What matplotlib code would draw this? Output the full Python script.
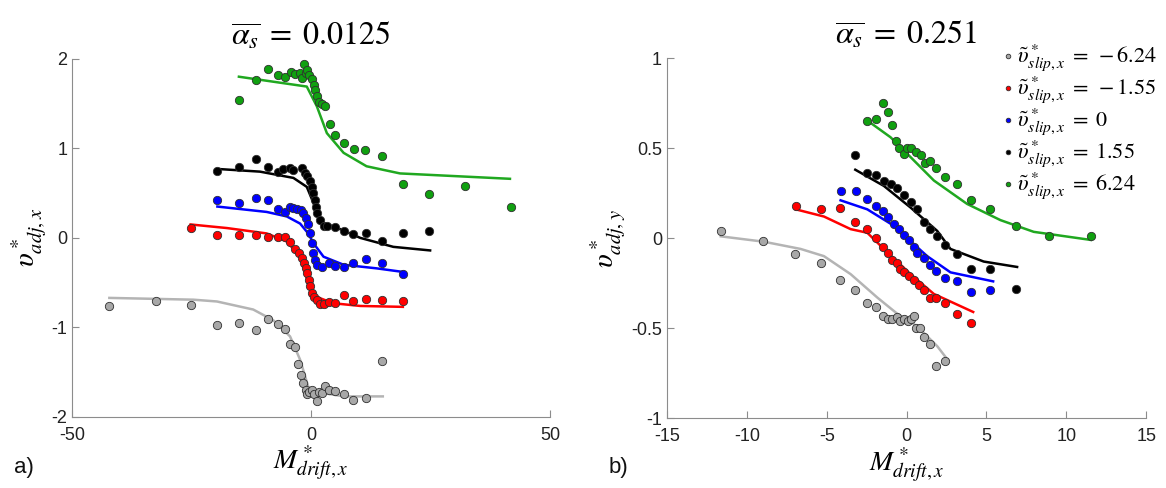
import numpy as np
import matplotlib
matplotlib.use("Agg")
import matplotlib.pyplot as plt

plt.rcParams['font.family'] = ['Liberation Sans', 'DejaVu Sans']
plt.rcParams['mathtext.fontset'] = 'stix'
plt.rcParams['axes.unicode_minus'] = False

# ---- panel a) alpha_s = 0.0125 ----
a_gray_x = [-42.2, -32.5, -25.2, -19.6, -15.1, -11.6, -9.1, -7.0, -5.4, -4.4, -3.3, -2.7, -2.2, -1.6,
            -1.0, -0.8, -0.4, 0.2, 0.6, 1.2, 1.7, 2.3, 3.0, 3.7, 5.1, 6.8, 8.7, 11.4, 14.8]
a_gray_y = [-0.76, -0.70, -0.75, -0.97, -0.95, -1.03, -0.91, -0.96, -1.02, -1.18, -1.22, -1.41, -1.53, -1.62,
            -1.70, -1.74, -1.72, -1.70, -1.74, -1.82, -1.72, -1.73, -1.65, -1.70, -1.71, -1.74, -1.81, -1.79, -1.37]
a_gray_fx = [-42.2, -24.6, -19.7, -12.1, -7.9, -4.4, -2.3, -0.6, 1.2, 6.8, 15.0]
a_gray_fy = [-0.67, -0.69, -0.71, -0.80, -0.92, -1.10, -1.36, -1.66, -1.72, -1.77, -1.77]

a_red_x = [-25.2, -19.6, -15.1, -11.6, -9.1, -7.0, -5.4, -4.4, -3.3, -2.6, -2.0, -1.5, -1.0, -0.8, -0.5,
           -0.2, 0.2, 0.6, 1.2, 1.9, 2.6, 3.7, 5.1, 6.8, 8.7, 11.4, 14.8, 19.2]
a_red_y = [0.11, 0.03, 0.03, 0.03, 0.01, 0.01, 0.01, -0.05, -0.12, -0.17, -0.23, -0.28, -0.34, -0.39, -0.47,
           -0.54, -0.62, -0.66, -0.69, -0.74, -0.74, -0.72, -0.73, -0.64, -0.71, -0.68, -0.69, -0.70]
a_red_fx = [-25.2, -17.6, -9.3, -5.1, -2.3, -0.6, 1.2, 4.7, 10.3, 19.2]
a_red_fy = [0.15, 0.11, 0.05, -0.04, -0.21, -0.51, -0.66, -0.73, -0.76, -0.77]

a_blue_x = [-19.6, -15.1, -11.6, -9.1, -7.0, -5.4, -4.4, -3.7, -2.9, -2.2, -1.6, -1.0, -0.6, -0.2,
            0.2, 0.5, 0.9, 1.3, 2.3, 3.7, 5.1, 6.8, 8.7, 11.4, 14.8, 19.2]
a_blue_y = [0.42, 0.39, 0.44, 0.42, 0.32, 0.29, 0.35, 0.33, 0.32, 0.31, 0.28, 0.22, 0.16, 0.05,
            -0.06, -0.17, -0.25, -0.30, -0.32, -0.28, -0.31, -0.33, -0.28, -0.24, -0.28, -0.40]
a_blue_fx = [-19.6, -9.3, -5.1, -2.3, -0.6, 0.5, 2.6, 6.8, 13.7, 19.2]
a_blue_fy = [0.35, 0.29, 0.24, 0.16, 0.05, -0.06, -0.21, -0.30, -0.34, -0.38]

a_black_x = [-19.6, -15.1, -11.6, -9.1, -7.0, -5.8, -4.5, -3.7, -2.0, -1.2, -0.8, -0.2, 0.2, 0.5, 0.8,
             1.0, 1.3, 1.9, 2.6, 3.3, 5.1, 6.8, 8.7, 11.4, 14.8, 19.2, 24.7]
a_black_y = [0.75, 0.79, 0.88, 0.79, 0.74, 0.77, 0.78, 0.76, 0.78, 0.72, 0.69, 0.63, 0.57, 0.50, 0.42,
             0.35, 0.28, 0.20, 0.13, 0.13, 0.12, 0.08, 0.04, 0.06, -0.04, 0.05, 0.08]
a_black_fx = [-19.6, -10.7, -3.7, -0.9, 0.5, 1.9, 4.7, 10.3, 17.2, 24.9]
a_black_fy = [0.77, 0.74, 0.67, 0.57, 0.39, 0.16, 0.13, 0.00, -0.10, -0.14]

a_green_x = [-15.1, -11.6, -9.1, -7.0, -5.4, -4.3, -3.3, -2.4, -2.0, -1.5, -1.0, -0.8, -0.4, 0.2, 0.6,
             0.9, 1.2, 1.6, 2.3, 3.0, 4.0, 5.1, 6.8, 8.9, 11.2, 14.9, 19.2, 24.7, 32.2, 41.8]
a_green_y = [1.54, 1.76, 1.89, 1.82, 1.80, 1.85, 1.83, 1.84, 1.79, 1.94, 1.84, 1.88, 1.82, 1.78, 1.71,
             1.65, 1.59, 1.52, 1.50, 1.47, 1.27, 1.15, 1.06, 0.99, 0.98, 0.92, 0.60, 0.49, 0.58, 0.34]
a_green_fx = [-15.1, -0.9, 1.2, 3.3, 6.8, 11.6, 18.6, 41.6]
a_green_fy = [1.80, 1.69, 1.47, 1.17, 0.95, 0.80, 0.72, 0.66]

# ---- panel b) alpha_s = 0.251 ----
b_gray_x = [-11.63, -8.96, -6.98, -5.38, -4.17, -3.21, -2.50, -1.92, -1.46, -1.17, -0.90, -0.58, -0.38,
            -0.13, 0.08, 0.29, 0.46, 0.60, 0.83, 1.08, 1.46, 1.83, 2.40]
b_gray_y = [0.04, -0.015, -0.09, -0.14, -0.23, -0.29, -0.36, -0.385, -0.43, -0.45, -0.45, -0.44, -0.46,
            -0.45, -0.46, -0.45, -0.43, -0.50, -0.50, -0.55, -0.59, -0.71, -0.68]
b_gray_fx = [-11.63, -8.92, -6.63, -5.17, -3.5, -1.83, -0.58, 0.67, 1.92, 2.44]
b_gray_fy = [0.01, -0.02, -0.06, -0.10, -0.20, -0.33, -0.42, -0.49, -0.60, -0.66]

b_red_x = [-6.94, -5.38, -4.17, -3.21, -2.46, -1.92, -1.50, -1.17, -0.90, -0.63, -0.38, -0.13, 0.15,
           0.46, 0.77, 1.08, 1.46, 1.83, 2.40, 3.13, 4.06]
b_red_y = [0.18, 0.16, 0.17, 0.09, 0.05, 0.00, -0.05, -0.085, -0.12, -0.14, -0.17, -0.19, -0.21,
           -0.23, -0.26, -0.29, -0.33, -0.33, -0.36, -0.42, -0.47]
b_red_fx = [-6.94, -5.17, -3.5, -2.46, -1.42, 0.25, 1.71, 4.17]
b_red_fy = [0.16, 0.12, 0.05, 0.03, -0.06, -0.20, -0.31, -0.41]

b_blue_x = [-4.13, -3.19, -2.46, -1.92, -1.46, -1.17, -0.79, -0.48, -0.17, 0.15, 0.46, 0.67, 1.08,
            1.46, 1.83, 2.40, 3.13, 4.06, 5.25]
b_blue_y = [0.26, 0.26, 0.22, 0.18, 0.15, 0.12, 0.08, 0.05, 0.02, -0.01, -0.05, -0.08, -0.11,
            -0.15, -0.18, -0.22, -0.24, -0.30, -0.29]
b_blue_fx = [-4.13, -2.46, -1.0, 0.04, 1.29, 2.75, 5.42]
b_blue_fy = [0.21, 0.16, 0.08, 0.00, -0.10, -0.19, -0.24]

b_black_x = [-3.21, -2.46, -1.92, -1.42, -1.0, -0.58, -0.17, 0.25, 0.67, 1.08, 1.46, 1.88, 2.40,
             3.13, 4.06, 5.25, 6.88]
b_black_y = [0.46, 0.36, 0.35, 0.32, 0.30, 0.28, 0.24, 0.20, 0.16, 0.09, 0.05, 0.01, -0.04,
             -0.09, -0.17, -0.17, -0.28]
b_black_fx = [-3.21, -1.42, 0.25, 1.92, 2.75, 4.83, 6.92]
b_black_fy = [0.38, 0.29, 0.17, 0.04, -0.06, -0.13, -0.16]

b_green_x = [-2.46, -1.92, -1.46, -1.17, -0.90, -0.69, -0.48, -0.17, 0.04, 0.25, 0.56, 0.88, 1.13,
             1.46, 1.83, 2.40, 3.13, 4.06, 5.25, 6.88, 8.9, 11.54]
b_green_y = [0.65, 0.66, 0.75, 0.70, 0.63, 0.54, 0.50, 0.47, 0.50, 0.50, 0.48, 0.46, 0.42,
             0.43, 0.39, 0.34, 0.30, 0.21, 0.16, 0.07, 0.01, 0.01]
b_green_fx = [-2.25, -1.0, 0.25, 1.71, 3.79, 5.88, 7.96, 11.54]
b_green_fy = [0.64, 0.56, 0.45, 0.32, 0.19, 0.10, 0.035, -0.01]

slip_values = ['-6.24', '-1.55', '0', '1.55', '6.24']
legend_labels = [r'$\tilde{\upsilon}^*_{slip,x}\;=\;' + v + '$' for v in slip_values]
colors = ['#a8a8a8', '#ff0000', '#0000ff', '#000000', '#10a010']
line_colors = ['#b4b4b4', '#ff0000', '#0000ff', '#000000', '#20a820']

panel_a = [(a_gray_x, a_gray_y, a_gray_fx, a_gray_fy), (a_red_x, a_red_y, a_red_fx, a_red_fy),
           (a_blue_x, a_blue_y, a_blue_fx, a_blue_fy), (a_black_x, a_black_y, a_black_fx, a_black_fy),
           (a_green_x, a_green_y, a_green_fx, a_green_fy)]
panel_b = [(b_gray_x, b_gray_y, b_gray_fx, b_gray_fy), (b_red_x, b_red_y, b_red_fx, b_red_fy),
           (b_blue_x, b_blue_y, b_blue_fx, b_blue_fy), (b_black_x, b_black_y, b_black_fx, b_black_fy),
           (b_green_x, b_green_y, b_green_fx, b_green_fy)]

fig = plt.figure(figsize=(11.66, 4.88), dpi=100)
ax1 = fig.add_axes([0.0618, 0.1455, 0.410, 0.734])
ax2 = fig.add_axes([0.572, 0.143, 0.411, 0.738])


def draw(ax, series):
    handles = []
    for (x, y, fx, fy), c, lc, lab in zip(series, colors, line_colors, legend_labels):
        ax.plot(fx, fy, color=lc, lw=1.8, zorder=2)
        h = ax.scatter(x, y, s=36, c=c, edgecolors='#303030', linewidths=0.6, zorder=3, label=lab)
        handles.append(h)
    for side in ['top', 'right']:
        ax.spines[side].set_visible(False)
    for side in ['left', 'bottom']:
        ax.spines[side].set_color('#8c8c8c')
    ax.tick_params(direction='in', colors='#8c8c8c', labelcolor='#222222', labelsize=13, length=5)
    ax.tick_params(axis='x', pad=7)
    return handles


draw(ax1, panel_a)
ax1.set_xlim(-50, 50)
ax1.set_ylim(-2, 2)
ax1.set_xticks([-50, 0, 50])
ax1.set_yticks([-2, -1, 0, 1, 2])
ax1.set_title(r'$\overline{\alpha_s}\;=\;0.0125$', fontsize=23, pad=10)
ax1.set_ylabel(r'$\upsilon^*_{adj,x}$', fontsize=21, labelpad=2)
ax1.set_xlabel(r'$M^*_{drift,x}$', fontsize=20, labelpad=0)

handles = draw(ax2, panel_b)
ax2.set_xlim(-15, 15)
ax2.set_ylim(-1, 1)
ax2.set_xticks([-15, -10, -5, 0, 5, 10, 15])
ax2.set_yticks([-1, -0.5, 0, 0.5, 1])
ax2.set_yticklabels(['-1', '-0.5', '0', '0.5', '1'])
ax2.set_title(r'$\overline{\alpha_s}\;=\;0.251$', fontsize=23, pad=10)
ax2.set_ylabel(r'$\upsilon^*_{adj,y}$', fontsize=21, labelpad=2)
ax2.set_xlabel(r'$M^*_{drift,x}$', fontsize=20, labelpad=0)
leg = ax2.legend(handles=handles, loc='upper right', bbox_to_anchor=(1.05, 1.08), frameon=False,
                 fontsize=16, markerscale=0.55, handletextpad=-0.2, labelspacing=0.05,
                 borderaxespad=0.2, handlelength=1.2)

fig.text(0.012, 0.03, 'a)', fontsize=16, color='#111111')
fig.text(0.522, 0.03, 'b)', fontsize=16, color='#111111')

fig.savefig('out.png', dpi=100)
